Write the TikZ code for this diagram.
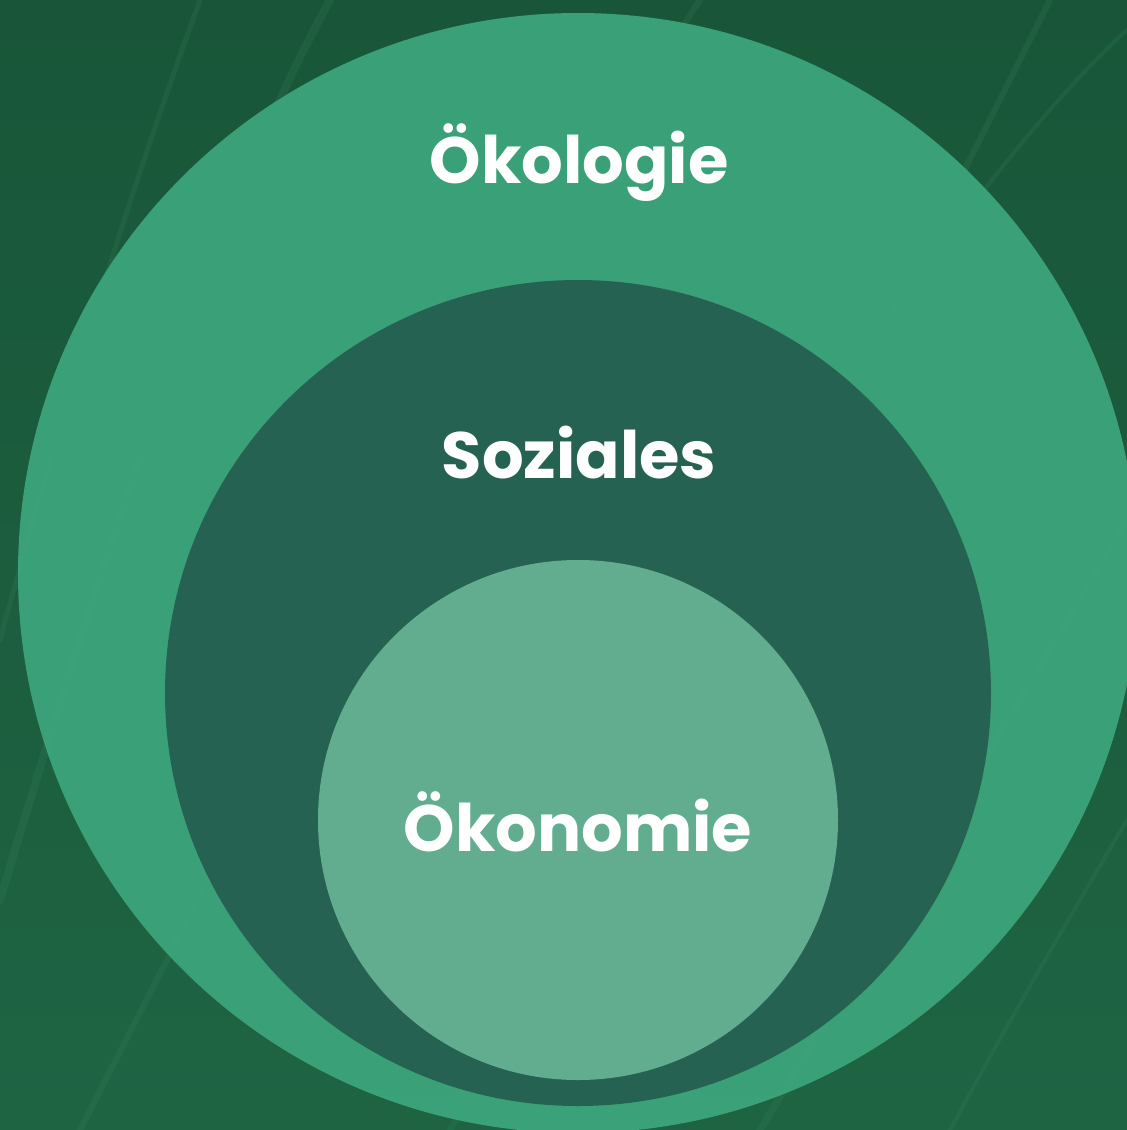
\documentclass[tikz,border=0pt]{standalone}
\usepackage{fontspec}
\setmainfont{Poppins}[BoldFont={* Bold}]
\definecolor{bgdark}{HTML}{195639}
\definecolor{bgmid}{HTML}{1E6443}
\definecolor{streak}{HTML}{3C8A62}
\definecolor{outerc}{HTML}{3BA37A}
\definecolor{midc}{HTML}{256050}
\definecolor{innerc}{HTML}{65B092}
\tikzset{
  lbl/.style={anchor=base, text=white, font=\bfseries\fontsize{65.5}{66}\selectfont, inner sep=0pt},
  vein/.style={draw=streak, line width=#1, opacity=0.18, line cap=round},
  vein/.default=6pt
}
\begin{document}
\begin{tikzpicture}[x=1pt,y=-1pt]
\useasboundingbox (0,0) rectangle (1127,1130);
\begin{scope}
\clip (0,0) rectangle (1127,1130);
\shade[bottom color=bgmid, top color=bgdark] (0,0) rectangle (1127,1130);
% leaf veins
\draw[vein=8pt] (0,900) .. controls (120,500) and (220,200) .. (330,0);
\draw[vein=5pt] (0,640) .. controls (60,420) and (120,220) .. (200,0);
\draw[vein=6pt] (80,1130) .. controls (300,700) and (500,300) .. (700,0);
\draw[vein=6pt] (450,1130) .. controls (650,780) and (850,400) .. (1050,0);
\draw[vein=7pt] (760,1130) .. controls (900,900) and (1020,700) .. (1127,520);
\draw[vein=4pt] (950,1130) .. controls (1020,1000) and (1080,900) .. (1127,820);
\draw[vein=4pt] (880,330) .. controls (960,220) and (1040,110) .. (1127,30);
% circles
\fill[outerc, opacity=0.97] (578,573) circle[radius=560pt];
\fill[midc, opacity=0.97] (578,693) circle[radius=413pt];
\fill[innerc, opacity=0.97] (578,820) circle[radius=260pt];
\end{scope}
\node[lbl] (oek) at (579,183) {Ökologie};
\node[lbl] (soz) at (579,478) {Soziales};
\node[lbl] (oko) at (578,851) {Ökonomie};
\end{tikzpicture}
\end{document}
